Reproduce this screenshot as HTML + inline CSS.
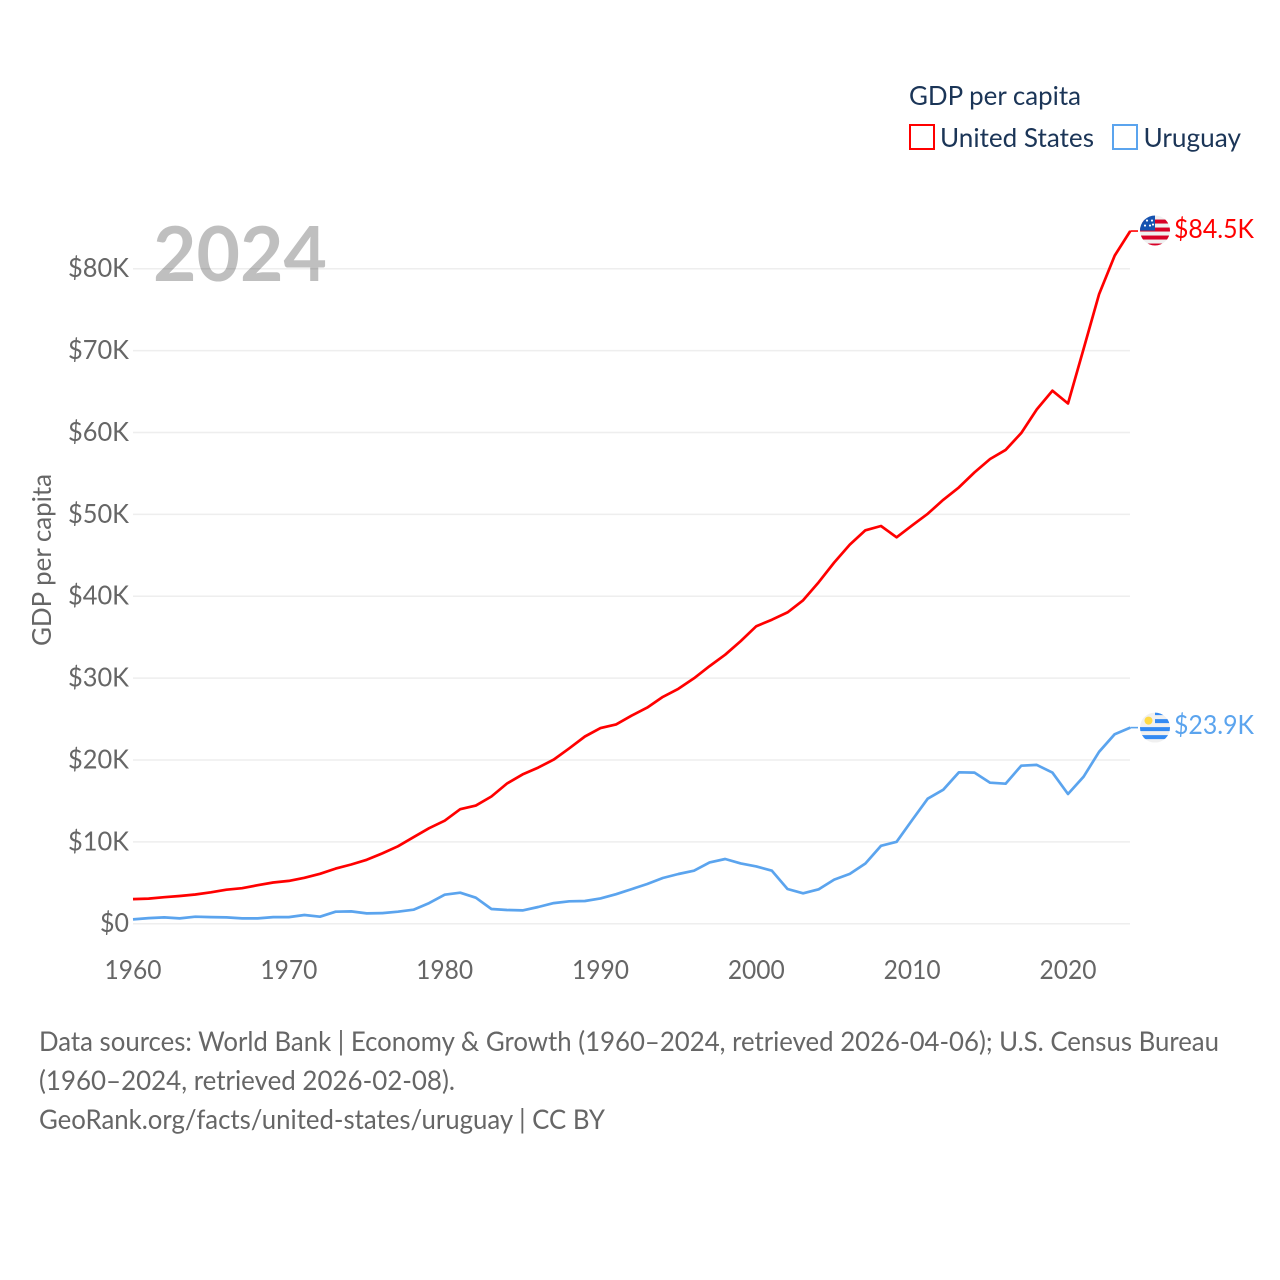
<!DOCTYPE html>
<html lang="en">
<head>
<meta charset="utf-8">
<title>GDP per capita: United States and Uruguay</title>
<style>
html,body{margin:0;padding:0;background:#fff;width:1280px;height:1280px;overflow:hidden}
svg{display:block;font-family:"Lato","Carlito","Liberation Sans",sans-serif}
</style>
</head>
<body>
<svg id="chart" xmlns="http://www.w3.org/2000/svg" width="1280" height="1280" viewBox="0 0 1280 1280">
  <defs>
    <clipPath id="flag-clip"><circle cx="0" cy="0" r="15"/></clipPath>
  </defs>
  <g id="grid"></g>
  <g id="y-ticks"></g>
  <g id="x-ticks"></g>
  <text x="153" y="281" font-size="76" font-weight="700" fill="#000" fill-opacity="0.25" textLength="174" lengthAdjust="spacingAndGlyphs">2024</text>
  <text transform="translate(51,646) rotate(-90)" font-size="26" fill="#666" textLength="172" lengthAdjust="spacingAndGlyphs">GDP per capita</text>
  <g id="series"></g>

  <g id="flag-us">
    <g clip-path="url(#flag-clip)">
      <rect x="-15" y="-15" width="30" height="30" fill="#f0f0f0"/>
      <rect x="-15" y="-11" width="30" height="4" fill="#d80027"/>
      <rect x="-15" y="-3" width="30" height="4" fill="#d80027"/>
      <rect x="-15" y="5" width="30" height="4" fill="#d80027"/>
      <rect x="-15" y="13" width="30" height="4" fill="#d80027"/>
      <rect x="-15" y="-15" width="15" height="15" fill="#1552b0"/>
      <circle cx="-8" cy="-10" r="1.1" fill="#fff"/>
      <circle cx="-3" cy="-10" r="1.1" fill="#fff"/>
      <circle cx="-10" cy="-5" r="1.1" fill="#fff"/>
      <circle cx="-5" cy="-5" r="1.1" fill="#fff"/>
      <circle cx="-2" cy="-6" r="1.1" fill="#fff"/>
    </g>
  </g>
  <g id="flag-uy">
    <g clip-path="url(#flag-clip)">
      <rect x="-15" y="-15" width="30" height="30" fill="#f0f0f0"/>
      <rect x="0" y="-16" width="15" height="3.5" fill="#338af3"/>
      <rect x="0" y="-8.5" width="15" height="4" fill="#338af3"/>
      <rect x="-15" y="-0.5" width="30" height="4" fill="#338af3"/>
      <rect x="-15" y="7.5" width="30" height="4" fill="#338af3"/>
      <circle cx="-6.5" cy="-7" r="4" fill="#ffda44"/>
    </g>
  </g>
  <text id="label-us" x="1174" font-size="26" fill="#ff0000" textLength="80" lengthAdjust="spacingAndGlyphs"></text>
  <text id="label-uy" x="1174" font-size="26" fill="#5ba4ee" textLength="80" lengthAdjust="spacingAndGlyphs"></text>

  <g>
    <text x="909" y="105" font-size="26" fill="#1b3557" textLength="172" lengthAdjust="spacingAndGlyphs">GDP per capita</text>
    <g>
      <rect x="910" y="125" width="24" height="24" fill="#fff" stroke="#ff0000" stroke-width="2"/>
      <text x="940" y="147" font-size="26" fill="#1b3557" textLength="154" lengthAdjust="spacingAndGlyphs">United States</text>
    </g>
    <g>
      <rect x="1113" y="125" width="24" height="24" fill="#fff" stroke="#5ba4ee" stroke-width="2"/>
      <text x="1143.5" y="147" font-size="26" fill="#1b3557" textLength="97.5" lengthAdjust="spacingAndGlyphs">Uruguay</text>
    </g>
  </g>

  <g font-size="27" fill="#666">
    <text x="39" y="1051" textLength="1180" lengthAdjust="spacingAndGlyphs">Data sources: World Bank | Economy &amp; Growth (1960–2024, retrieved 2026-04-06); U.S. Census Bureau</text>
    <text x="39" y="1090" textLength="416" lengthAdjust="spacingAndGlyphs">(1960–2024, retrieved 2026-02-08).</text>
    <text x="39" y="1129" textLength="566" lengthAdjust="spacingAndGlyphs">GeoRank.org/facts/united-states/uruguay | CC BY</text>
  </g>
</svg>
<script>
const firstYear = 1960;
const usValues = [3.01,3.07,3.24,3.38,3.57,3.83,4.15,4.34,4.70,5.03,5.23,5.61,6.09,6.73,7.23,7.80,8.59,9.45,10.57,11.67,12.58,13.98,14.43,15.54,17.12,18.24,19.07,20.04,21.42,22.86,23.89,24.34,25.42,26.39,27.70,28.69,29.97,31.46,32.85,34.51,36.33,37.13,38.02,39.50,41.71,44.12,46.30,48.05,48.57,47.20,48.65,50.07,51.78,53.29,55.12,56.76,57.87,59.92,62.81,65.10,63.53,70.20,76.90,81.60,84.60];
const uyValues = [0.53,0.69,0.77,0.65,0.85,0.81,0.77,0.65,0.65,0.81,0.81,1.06,0.85,1.47,1.50,1.26,1.30,1.47,1.71,2.52,3.54,3.79,3.18,1.79,1.67,1.63,2.04,2.52,2.73,2.77,3.09,3.60,4.23,4.85,5.58,6.07,6.47,7.49,7.90,7.37,7.00,6.47,4.24,3.71,4.20,5.39,6.08,7.35,9.51,10.00,12.65,15.27,16.37,18.49,18.45,17.22,17.10,19.30,19.39,18.45,15.84,17.96,21.00,23.14,23.95];
const yTickValues = [0,10,20,30,40,50,60,70,80];
const yTickLabels = ["$0","$10K","$20K","$30K","$40K","$50K","$60K","$70K","$80K"];
const xTickValues = [1960,1970,1980,1990,2000,2010,2020];
const xTickLabels = ["1960","1970","1980","1990","2000","2010","2020"];
const usEndLabel = "$84.5K";
const uyEndLabel = "$23.9K";

const NS = "http://www.w3.org/2000/svg";
function xScale(year) { return 133 + (year - 1960) * 15.583; }
function yScale(v) { return 923.7 - v * 8.1875; }
function make(tag, parent, attrs) {
  const el = document.createElementNS(NS, tag);
  for (const k in attrs) el.setAttribute(k, attrs[k]);
  parent.appendChild(el);
  return el;
}

const grid = document.getElementById("grid");
const yTicks = document.getElementById("y-ticks");
yTickValues.forEach(function (v, i) {
  const line = make("line", grid, { x1: 133, x2: 1130, y1: yScale(v), y2: yScale(v), stroke: "#eeeeee", "stroke-width": 1.5 });
  
  
  const t = make("text", yTicks, { x: 129, y: yScale(v) + 8.5, "text-anchor": "end", "font-size": 26, fill: "#666", textLength: yTickLabels[i].length * 16 - 3, lengthAdjust: "spacingAndGlyphs" });
  t.textContent = yTickLabels[i];
  
  
});

const xTicks = document.getElementById("x-ticks");
xTickValues.forEach(function (v, i) {
  const t = make("text", xTicks, { x: xScale(v), y: 979, "text-anchor": "middle", "font-size": 26, fill: "#666", textLength: 57, lengthAdjust: "spacingAndGlyphs" });
  t.textContent = xTickLabels[i];
  
  
});

function linePoints(values) {
  return values.map(function (v, i) {
    return xScale(firstYear + i).toFixed(1) + "," + yScale(v).toFixed(1);
  });
}
const seriesGroup = document.getElementById("series");
const lastYear = firstYear + usValues.length - 1;

const usLine = make("polyline", seriesGroup, { points: linePoints(usValues).join(" "), fill: "none", stroke: "#ff0000", "stroke-width": 2.7, "stroke-linejoin": "round" });


const uyLine = make("polyline", seriesGroup, { points: linePoints(uyValues).join(" "), fill: "none", stroke: "#5ba4ee", "stroke-width": 2.7, "stroke-linejoin": "round" });



const usEndY = yScale(usValues[usValues.length - 1]);
const uyEndY = yScale(uyValues[uyValues.length - 1]);
const usConnector = make("line", seriesGroup, { x1: xScale(lastYear), x2: 1138, y1: usEndY, y2: usEndY, stroke: "#ff0000", "stroke-width": 1.6 });


const uyConnector = make("line", seriesGroup, { x1: xScale(lastYear), x2: 1138, y1: uyEndY, y2: uyEndY, stroke: "#5ba4ee", "stroke-width": 1.6 });



document.getElementById("flag-us").setAttribute("transform", "translate(1155," + (usEndY - 0.5) + ")");
document.getElementById("flag-uy").setAttribute("transform", "translate(1155," + uyEndY + ")");
const usLabel = document.getElementById("label-us");
usLabel.setAttribute("y", usEndY + 7);
usLabel.textContent = usEndLabel;
const uyLabel = document.getElementById("label-uy");
uyLabel.setAttribute("y", uyEndY + 6.5);
uyLabel.textContent = uyEndLabel;
</script>
</body>
</html>
